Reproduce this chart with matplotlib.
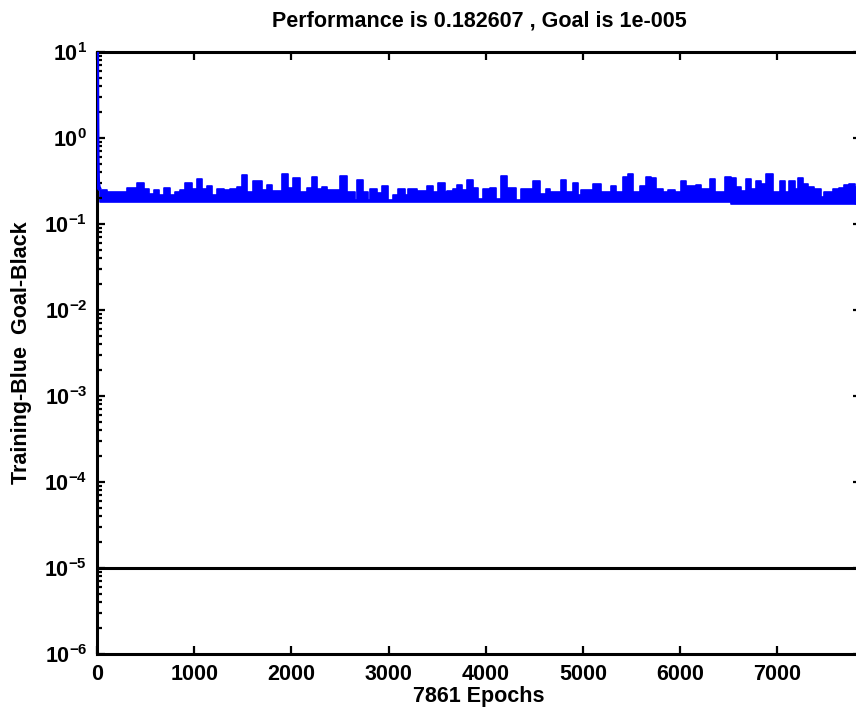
import numpy as np
import matplotlib
matplotlib.use("Agg")
import matplotlib.pyplot as plt
from matplotlib.ticker import FixedLocator, LogLocator, NullFormatter, FuncFormatter

# ---- data -------------------------------------------------------------
total_epochs = 7861
goal = 1e-5
final_perf = 0.182607

# steep descent at the very start of training
start_epochs = [0, 2, 5, 10, 20, 34]
start_perf = [10.0, 2.0, 0.6, 0.3, 0.26, 0.25]

# oscillating training error: upper envelope per block (block start epoch, peak)
band_epochs = [
    34, 103, 205, 308, 411, 479, 531, 582, 634, 685,
    753, 805, 856, 908, 976, 1028, 1079, 1131, 1182, 1233,
    1302, 1370, 1439, 1490, 1542, 1610, 1696, 1747, 1799, 1901,
    1970, 2021, 2089, 2158, 2210, 2267, 2312, 2364, 2381, 2500,
    2569, 2655, 2672, 2740, 2792, 2809, 2878, 2929, 2998, 3049,
    3100, 3169, 3203, 3289, 3391, 3460, 3512, 3580, 3597, 3665,
    3700, 3751, 3802, 3871, 3922, 3973, 4042, 4110, 4162, 4214,
    4248, 4316, 4367, 4487, 4556, 4625, 4659, 4779, 4830, 4898,
    4950, 4985, 5104, 5190, 5293, 5344, 5413, 5464, 5516, 5584,
    5653, 5704, 5756, 5824, 5875, 5944, 6012, 6063, 6166, 6218,
    6303, 6355, 6458, 6526, 6578, 6629, 6680, 6732, 6783, 6835,
    6886, 6954, 7023, 7074, 7125, 7177, 7211, 7262, 7314, 7382,
    7450, 7485, 7570, 7639, 7690, 7741, 7803,
]
band_peak = [
    0.248, 0.236, 0.236, 0.262, 0.302, 0.257, 0.225, 0.248, 0.216, 0.262,
    0.219, 0.236, 0.248, 0.302, 0.257, 0.331, 0.257, 0.277, 0.219, 0.257,
    0.248, 0.257, 0.270, 0.369, 0.236, 0.314, 0.248, 0.286, 0.240, 0.378,
    0.262, 0.343, 0.236, 0.262, 0.352, 0.257, 0.270, 0.236, 0.246, 0.361,
    0.236, 0.188, 0.327, 0.236, 0.188, 0.257, 0.229, 0.275, 0.188, 0.216,
    0.257, 0.216, 0.257, 0.240, 0.275, 0.236, 0.300, 0.236, 0.240, 0.257,
    0.286, 0.246, 0.327, 0.265, 0.197, 0.257, 0.265, 0.197, 0.361, 0.265,
    0.260, 0.188, 0.257, 0.320, 0.225, 0.257, 0.236, 0.322, 0.236, 0.302,
    0.216, 0.248, 0.295, 0.236, 0.277, 0.236, 0.352, 0.382, 0.236, 0.280,
    0.352, 0.343, 0.257, 0.236, 0.248, 0.236, 0.314, 0.280, 0.286, 0.257,
    0.331, 0.236, 0.352, 0.343, 0.270, 0.240, 0.331, 0.257, 0.314, 0.295,
    0.382, 0.236, 0.314, 0.236, 0.314, 0.257, 0.343, 0.295, 0.270, 0.257,
    0.205, 0.236, 0.257, 0.262, 0.286, 0.295, 0.270,
]
# lower envelope of the oscillation
floor_epochs = [0, 6475]
floor_perf = [0.180, 0.172]

# ---- styling ----------------------------------------------------------
plt.rcParams["font.family"] = ["Liberation Sans", "DejaVu Sans"]
plt.rcParams["font.weight"] = "bold"
plt.rcParams["mathtext.fontset"] = "custom"
plt.rcParams["mathtext.rm"] = "Liberation Sans:bold"
plt.rcParams["mathtext.default"] = "regular"

BLUE = (0, 0, 1)
W, H = 856, 716
fig = plt.figure(figsize=(W / 100, H / 100), dpi=100)
left, right, top, bottom = 97, 861, 52, 654
ax = fig.add_axes([left / W, 1 - bottom / H, (right - left) / W, (bottom - top) / H])

# ---- marks ------------------------------------------------------------
edges = np.array(band_epochs + [total_epochs])
peaks = np.array(band_peak + [band_peak[-1]])
lows = np.array(floor_perf)[np.searchsorted(floor_epochs, edges, side="right") - 1]
ax.fill_between(edges, lows, peaks, step="post", color=BLUE, lw=1.2, ec=BLUE)
ax.plot(start_epochs, start_perf, color=BLUE, lw=3.0, solid_capstyle="butt", zorder=5)
ax.plot([edges[-2], total_epochs], [lows[-1], final_perf], color=BLUE, lw=1.2)
ax.axhline(goal, color="black", lw=2.2)

# ---- axes -------------------------------------------------------------
ax.set_yscale("log")
ax.set_xlim(0, total_epochs)
ax.set_ylim(1e-6, 1e1)
ax.xaxis.set_major_locator(FixedLocator(np.arange(0, 8000, 1000)))
ax.yaxis.set_major_locator(LogLocator(base=10, numticks=20))
ax.yaxis.set_minor_locator(LogLocator(base=10, subs=np.arange(2, 10), numticks=20))
ax.yaxis.set_minor_formatter(NullFormatter())
ax.yaxis.set_major_formatter(FuncFormatter(lambda v, p: r"$10^{%d}$" % round(np.log10(v))))

for s in ax.spines.values():
    s.set_linewidth(2.2)
ax.tick_params(which="both", direction="in", top=True, right=True, width=1.6)
ax.tick_params(which="major", length=6, labelsize=15.5, pad=7)
ax.tick_params(which="minor", length=3.5)

ax.set_title("Performance is 0.182607 , Goal is 1e-005", fontsize=15.5,
             fontweight="bold", pad=18)
ax.set_xlabel("7861 Epochs", fontsize=15.5, fontweight="bold", labelpad=1)
ax.set_ylabel("Training-Blue  Goal-Black", fontsize=15.5, fontweight="bold", labelpad=9)

fig.savefig("out.png", dpi=100)
